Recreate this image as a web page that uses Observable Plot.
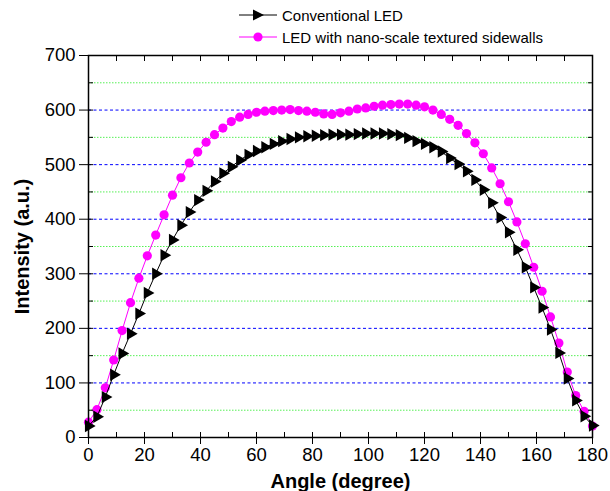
<!DOCTYPE html>
<html><head><meta charset="utf-8">
<script src="https://cdn.jsdelivr.net/npm/d3@7"></script>
<script src="https://cdn.jsdelivr.net/npm/@observablehq/plot@0.6"></script>
<style>
body{margin:0;background:#fff;font-family:"Liberation Sans",Arial,Helvetica,sans-serif;}
#wrap{position:relative;width:610px;height:491px;}
#legend{position:absolute;left:239px;top:4px;font-size:15px;color:#000;}
.row{display:flex;align-items:center;height:22px;white-space:nowrap;}
.row svg{margin-right:5px;}
</style></head><body>
<div id="wrap"><div id="legend"></div></div>
<script>
const angles = [0,3,6,9,12,15,18,21,24,27,30,33,36,39,42,45,48,51,54,57,60,63,66,69,72,75,78,81,84,87,90,93,96,99,102,105,108,111,114,117,120,123,126,129,132,135,138,141,144,147,150,153,156,159,162,165,168,171,174,177,180];
const conventional = [21,38,74,115,154,190,227,265,300,334,362,389,413,435,452,469,484,496,508,518,525,532,538,543,547,550,552,553,554,555,555,555,556,557,557,557,556,554,549,543,538,532,524,512,501,488,472,454,430,403,376,344,312,275,238,198,155,108,68,39,22];
const textured = [28,51,91,142,196,247,292,333,371,408,444,476,503,523,541,555,567,579,587,592,596,598,599,600,601,599,598,596,593,592,595,598,602,604,607,609,610,611,611,609,606,600,592,583,572,557,540,520,494,465,432,395,355,312,268,221,173,120,77,48,21];
const seriesNames = ["Conventional LED", "LED with nano-scale textured sidewalls"];
const xTicks = [0,20,40,60,80,100,120,140,160,180];
const xMinorTicks = [0,10,20,30,40,50,60,70,80,90,100,110,120,130,140,150,160,170,180];
const yTicks = [0,100,200,300,400,500,600,700];
const yMinorTicks = [0,50,100,150,200,250,300,350,400,450,500,550,600,650,700];
const blueGrid = [100,200,300,400,500,600];
const greenGrid = [50,150,250,350,450,550,650];

const convRows = angles.map((a, i) => ({angle: a, value: conventional[i]}));
const texRows = angles.map((a, i) => ({angle: a, value: textured[i]}));

const blank = () => "";
const chart = Plot.plot({
  width: 610,
  height: 491,
  marginLeft: 88,
  marginRight: 18,
  marginTop: 55,
  marginBottom: 54,
  style: {fontFamily: "'Liberation Sans', Arial, Helvetica, sans-serif", fontSize: "18.5px", color: "#000", background: "#fff", overflow: "visible"},
  x: {domain: [0, 180]},
  y: {domain: [0, 700]},
  marks: [
    Plot.ruleY(greenGrid, {stroke: "#55f055", strokeDasharray: "1.5,1.5", strokeWidth: 1}),
    Plot.ruleY(blueGrid, {stroke: "#0000ff", strokeDasharray: "3,2.5", strokeWidth: 1}),
    Plot.line(texRows, {x: "angle", y: "value", stroke: "#ff00ff", strokeWidth: 1}),
    Plot.dot(texRows, {x: "angle", y: "value", r: 4.6, fill: "#ff00ff", stroke: "none"}),
    Plot.line(convRows, {x: "angle", y: "value", stroke: "#000", strokeWidth: 1}),
    Plot.dot(convRows, {x: "angle", y: "value", symbol: "triangle", r: 4.6, rotate: 90, fill: "#000", stroke: "none"}),
    Plot.axisX({ticks: xTicks, tickSize: 7, tickPadding: 3, fontSize: 18.5, label: null}),
    Plot.axisX({ticks: xMinorTicks, tickSize: -5, tickFormat: blank, label: null}),
    Plot.axisX({anchor: "top", ticks: xMinorTicks, tickSize: -5, tickFormat: blank, label: null}),
    Plot.axisY({ticks: yTicks, tickSize: 9, tickPadding: 4, fontSize: 18.5, label: null}),
    Plot.axisY({ticks: yMinorTicks, tickSize: -5, tickFormat: blank, label: null}),
    Plot.axisY({anchor: "right", ticks: yMinorTicks, tickSize: -5, tickFormat: blank, label: null}),
    Plot.frame({stroke: "#000", strokeWidth: 1.5}),
    Plot.text(["Angle (degree)"], {frameAnchor: "bottom", dy: 44, fontWeight: "bold", fontSize: 20, textAnchor: "middle", lineAnchor: "middle"}),
    Plot.text(["Intensity (a.u.)"], {frameAnchor: "left", dx: -66, rotate: -90, fontWeight: "bold", fontSize: 20, textAnchor: "middle", lineAnchor: "middle"})
  ]
});
document.getElementById("wrap").appendChild(chart);

// legend
const legend = document.getElementById("legend");
const glyphs = [
  `<svg width="38" height="14"><line x1="0" y1="7" x2="38" y2="7" stroke="#000" stroke-width="1"/><polygon points="14,1.5 25,7 14,12.5" fill="#000"/></svg>`,
  `<svg width="38" height="14"><line x1="0" y1="7" x2="38" y2="7" stroke="#ff00ff" stroke-width="1"/><circle cx="19" cy="7" r="4.6" fill="#ff00ff"/></svg>`
];
seriesNames.forEach((name, i) => {
  const row = document.createElement("div");
  row.className = "row";
  row.innerHTML = glyphs[i] + `<span>${name}</span>`;
  legend.appendChild(row);
});
</script>
</body></html>
